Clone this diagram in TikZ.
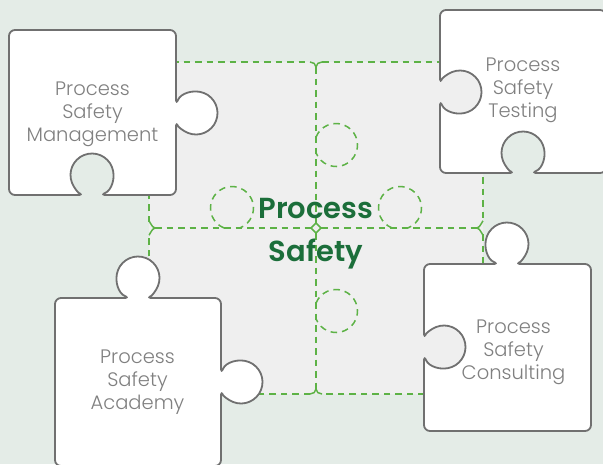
\documentclass[tikz,border=0pt]{standalone}
\usepackage{fontspec}
\newfontfamily\lblfont{Poppins Light}
\newfontfamily\ttlfont{Poppins SemiBold}
\definecolor{bgc}{RGB}{228,236,231}
\definecolor{midgray}{RGB}{239,239,239}
\definecolor{dashgreen}{RGB}{93,178,70}
\definecolor{titlegreen}{RGB}{27,110,58}
\definecolor{edgegray}{RGB}{112,112,112}
\definecolor{textgray}{RGB}{128,128,128}
\tikzset{
  piece/.style={fill=white, draw=edgegray, line width=1.8pt, rounded corners=6pt},
  gridline/.style={draw=dashgreen, line width=1.5pt, dash pattern=on 6.5pt off 5pt},
  gridmark/.style={draw=dashgreen, line width=1.5pt},
  lbl/.style={font=\lblfont\fontsize{19.5}{23}\selectfont, text=textgray, align=center, inner sep=0pt},
  ttl/.style={font=\ttlfont\fontsize{29}{43}\selectfont, text=titlegreen, align=center, inner sep=0pt},
}
\begin{document}
\begin{tikzpicture}[x=1pt,y=-1pt]
\pgfmathsetmacro{\R}{21.5}
\pgfmathsetmacro{\ph}{acos(20/21.5)}
\pgfmathsetmacro{\hh}{sqrt(21.5*21.5-20*20)}
\path[use as bounding box] (0,0) rectangle (603,464);
\clip (0,0) rectangle (603,464);
% background
\fill[bgc] (0,0) rectangle (603,464);
\fill[midgray] (149,62) rectangle (483,394);
% dashed grid
\draw[gridline] (149,62) -- (310,62);
\draw[gridline] (322,62) -- (483,62) -- (483,222);
\draw[gridline] (483,234) -- (483,394) -- (322,394);
\draw[gridline] (310,394) -- (149,394) -- (149,234);
\draw[gridline] (149,222) -- (149,62);
\draw[gridline] (316,67) -- (316,223);
\draw[gridline] (316,233) -- (316,389);
\draw[gridline] (155,228) -- (311,228);
\draw[gridline] (321,228) -- (477,228);
% junction marks
\draw[gridmark] (310,62) to[out=0,in=90] (316,67) to[out=90,in=180] (322,62);
\draw[gridmark] (310,394) to[out=0,in=-90] (316,389) to[out=-90,in=180] (322,394);
\draw[gridmark] (149,222) to[out=90,in=180] (155,228) to[out=180,in=-90] (149,234);
\draw[gridmark] (483,222) to[out=90,in=0] (477,228) to[out=0,in=-90] (483,234);
\draw[gridmark] (316,223) -- (321,228) -- (316,233) -- (311,228) -- cycle;
% dashed knobs
\draw[gridline] (316,145-\hh) arc[start angle=180+\ph, end angle=540-\ph, radius=\R];
\draw[gridline] (316,311-\hh) arc[start angle=180+\ph, end angle=540-\ph, radius=\R];
\draw[gridline] (232-\hh,228) arc[start angle=90+\ph, end angle=450-\ph, radius=\R];
\draw[gridline] (400-\hh,228) arc[start angle=90+\ph, end angle=450-\ph, radius=\R];
% title
\node[ttl] (title) at (316,233.5) {Process\\Safety};
% piece 1: Process Safety Management
\draw[piece] (9,110) -- (9,30) -- (176,30) -- (176,113-\hh)
  arc[start angle=180+\ph, end angle=540-\ph, radius=\R]
  -- (176,195) -- (92+\hh,195)
  arc[start angle=90-\ph, end angle=-270+\ph, radius=\R]
  -- (9,195) -- cycle;
% piece 2: Process Safety Testing
\draw[piece] (520,10) -- (606,10) -- (606,173) -- (523+\hh,173)
  arc[start angle=90-\ph, end angle=-270+\ph, radius=\R]
  -- (440,173) -- (440,92+\hh)
  arc[start angle=180-\ph, end angle=-180+\ph, radius=\R]
  -- (440,10) -- cycle;
% piece 3: Process Safety Academy
\draw[piece] (55,380) -- (55,298) -- (138-\hh,298)
  arc[start angle=90+\ph, end angle=450-\ph, radius=\R]
  -- (221,298) -- (221,382-\hh)
  arc[start angle=180+\ph, end angle=540-\ph, radius=\R]
  -- (221,466) -- (55,466) -- cycle;
% piece 4: Process Safety Consulting
\draw[piece] (424,300) -- (424,264) -- (507-\hh,264)
  arc[start angle=90+\ph, end angle=450-\ph, radius=\R]
  -- (591,264) -- (591,431) -- (424,431) -- (424,347+\hh)
  arc[start angle=180-\ph, end angle=-180+\ph, radius=\R]
  -- cycle;
% labels
\node[lbl] (psm) at (92.5,114) {Process\\Safety\\Management};
\node[lbl] (pst) at (523,90) {Process\\Safety\\Testing};
\node[lbl] (psa) at (137.5,382) {Process\\Safety\\Academy};
\node[lbl] (psc) at (513.5,352) {Process\\Safety\\Consulting};
\end{tikzpicture}
\end{document}
